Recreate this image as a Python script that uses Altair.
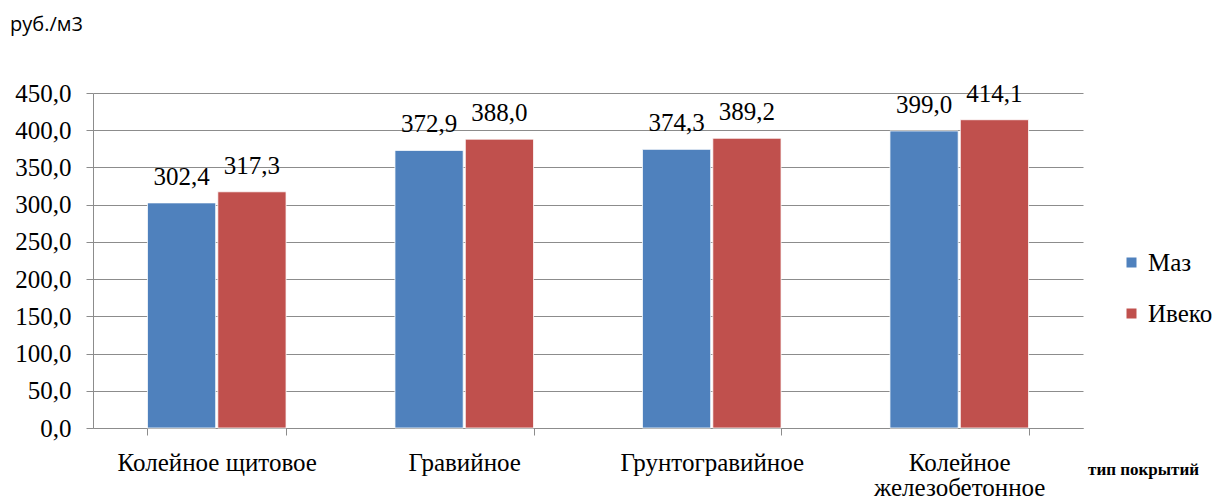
import altair as alt
import pandas as pd

categories = ["Колейное щитовое", "Гравийное", "Грунтогравийное", "Колейное железобетонное"]
series = ["Маз", "Ивеко"]
maz_values = [302.4, 372.9, 374.3, 399.0]
iveco_values = [317.3, 388.0, 389.2, 414.1]
y_ticks = [0, 50, 100, 150, 200, 250, 300, 350, 400, 450]

rows = []
for cat, m, i in zip(categories, maz_values, iveco_values):
    rows.append({"cat": cat, "series": series[0], "value": m})
    rows.append({"cat": cat, "series": series[1], "value": i})
df = pd.DataFrame(rows)
df["label"] = df["value"].map(lambda v: f"{v:.1f}".replace(".", ","))

serif = "Liberation Serif"
fs = 25

x_enc = alt.X(
    "cat:N",
    sort=categories,
    scale=alt.Scale(paddingInner=0.44, paddingOuter=0.22),
    axis=alt.Axis(
        title="тип покрытий",
        titleFont=serif,
        titleFontSize=17,
        titleFontWeight="bold",
        titleColor="black",
        titleX=1050,
        titleY=33,
        titleAlign="center",
        labelAngle=0,
        labelFont=serif,
        labelFontSize=fs,
        labelColor="black",
        labelPadding=15,
        labelLineHeight=25,
        labelLimit=0,
        labelExpr="datum.label == 'Колейное железобетонное' ? ['Колейное', 'железобетонное'] : datum.label",
        tickBand="extent",
        tickSize=7,
        tickColor="#8c8c8c",
        domainColor="#8c8c8c",
        grid=False,
    ),
)
xoff = alt.XOffset("series:N", sort=series, scale=alt.Scale(paddingInner=0.03))
y_enc = alt.Y(
    "value:Q",
    scale=alt.Scale(domain=[0, 450], nice=False),
    axis=alt.Axis(
        title=None,
        values=y_ticks,
        labelExpr="replace(format(datum.value, '.1f'), '.', ',')",
        labelOverlap=False,
        labelFlush=False,
        labelFont=serif,
        labelFontSize=fs,
        labelColor="black",
        labelPadding=15,
        tickSize=7,
        tickColor="#8c8c8c",
        domainColor="#8c8c8c",
        gridColor="#8c8c8c",
        gridWidth=1,
    ),
)

base = alt.Chart(df)

bars = base.mark_bar(stroke="white", strokeWidth=0.8).encode(
    x=x_enc,
    xOffset=xoff,
    y=y_enc,
    color=alt.Color(
        "series:N",
        sort=series,
        scale=alt.Scale(domain=series, range=["#4F81BD", "#C0504D"]),
        legend=alt.Legend(
            title=None,
            orient="none",
            legendX=1026,
            legendY=157,
            symbolType="square",
            symbolSize=100,
            symbolStrokeWidth=0,
            labelFont=serif,
            labelFontSize=fs,
            labelColor="black",
            labelLimit=0,
            rowPadding=25,
            labelOffset=4,
        ),
    ),
)

labels = base.mark_text(font=serif, fontSize=fs, baseline="alphabetic", dy=-18, color="black").encode(
    x=x_enc,
    xOffset=xoff,
    y=y_enc,
    text="label:N",
)

chart = (
    alt.layer(bars, labels)
    .properties(
        width=990,
        height=335,
        title=alt.TitleParams(
            "руб./м3",
            anchor="start",
            frame="group",
            font="Open Sans",
            fontSize=20,
            fontWeight="normal",
            color="black",
            dx=-83,
            offset=46,
        ),
        autosize=alt.AutoSizeParams(type="none"),
        padding={"left": 93, "top": 93, "right": 129, "bottom": 73},
    )
    .configure_view(stroke=None)
)

chart.save("out.html", embed_options={"renderer": "svg", "actions": False})
